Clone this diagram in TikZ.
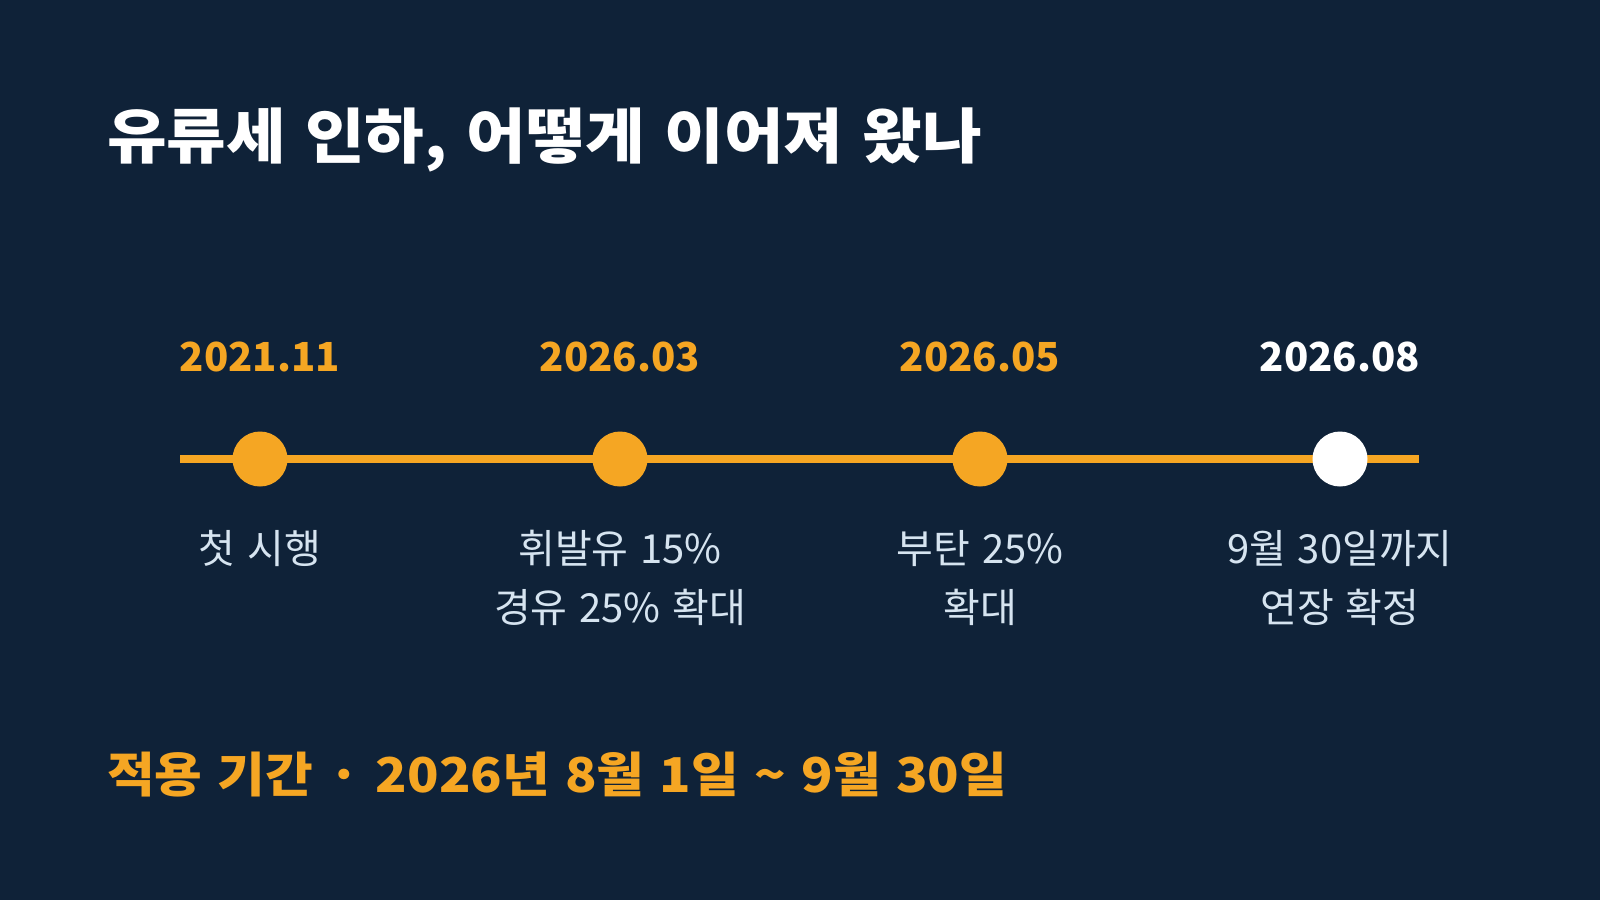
\documentclass[tikz,border=0pt]{standalone}
\usepackage{fontspec}
\usepackage{tikz}
\usetikzlibrary{positioning, calc}
\setmainfont{Noto Sans CJK KR}
\newfontfamily\kr[WordSpace=1.3]{Noto Sans CJK KR}
\newfontfamily\krwide[FakeStretch=1.08, WordSpace=1.3]{Noto Sans CJK KR}
\definecolor{bgnavy}{HTML}{0F2238}
\definecolor{fuelorange}{HTML}{F5A623}
\definecolor{softblue}{HTML}{D6E4F0}

\begin{document}
\begin{tikzpicture}[x=1pt, y=-1pt,
	datelbl/.style = {font=\kr\bfseries\fontsize{40}{44}\selectfont, text=fuelorange, anchor=base},
	eventlbl/.style = {font=\kr\fontsize{40}{59}\selectfont, text=softblue, align=center, anchor=north},
	dot/.style = {circle, fill=fuelorange, minimum size=55pt, inner sep=0pt}]
	% background
	\fill[bgnavy] (0, 0) rectangle (1600, 900);
	\useasboundingbox (0, 0) rectangle (1600, 900);
	% title
	\node[anchor=base west, text=white, font=\krwide\bfseries\fontsize{60}{66}\selectfont, inner sep=0pt] (title) at (107, 158) {유류세 인하, 어떻게 이어져 왔나};
	% timeline
	\coordinate (lstart) at (180, 459);
	\coordinate (lend) at (1419, 459);
	\draw[fuelorange, line width=8pt] (lstart) -- (lend);
	% points
	\node[dot] (p1) at (260, 459) {};
	\node[dot] (p2) at (620, 459) {};
	\node[dot] (p3) at (980, 459) {};
	\node[dot, fill=white] (p4) at (1340, 459) {};
	% dates
	\node[datelbl] (d1) at (260, 371) {2021.11};
	\node[datelbl] (d2) at (620, 371) {2026.03};
	\node[datelbl] (d3) at (980, 371) {2026.05};
	\node[datelbl, text=white] (d4) at (1340, 371) {2026.08};
	% events
	\node[eventlbl] (e1) at (260, 527) {첫 시행};
	\node[eventlbl] (e2) at (620, 527) {휘발유 15\%\\경유 25\% 확대};
	\node[eventlbl] (e3) at (980, 527) {부탄 25\%\\확대};
	\node[eventlbl] (e4) at (1340, 527) {9월 30일까지\\연장 확정};
	% period
	\node[anchor=base west, text=fuelorange, font=\krwide\bfseries\fontsize{48}{54}\selectfont, inner sep=0pt] (period) at (107, 792) {적용 기간 · 2026년 8월 1일 \textasciitilde{} 9월 30일};
\end{tikzpicture}
\end{document}
